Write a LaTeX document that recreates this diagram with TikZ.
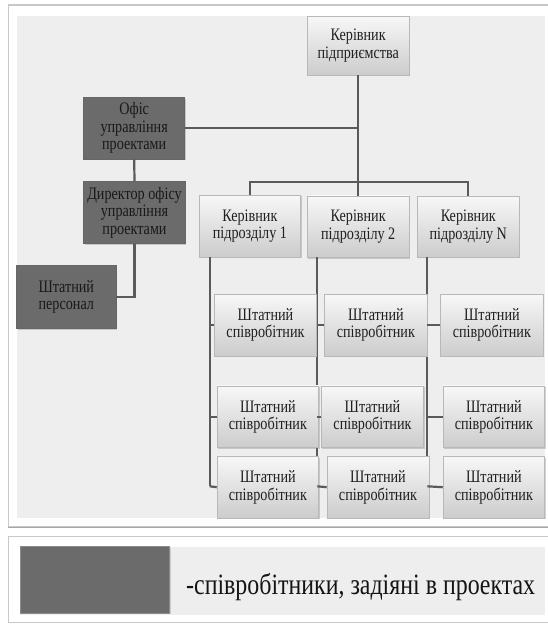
\documentclass[tikz,border=0pt]{standalone}
\usepackage{fontspec}
\setmainfont{Liberation Serif}
\newfontfamily\narrowf[FakeStretch=0.81]{Liberation Serif}
\usetikzlibrary{shadows}
\definecolor{panel}{HTML}{EEEEEE}
\definecolor{darkbox}{HTML}{6B6B6B}
\definecolor{linec}{HTML}{5A5A5A}
\definecolor{frameline}{HTML}{C8C8C8}
\tikzset{
  x=1pt, y=-1pt,
  boxbase/.style={line width=0.6pt, minimum width=101.7pt, minimum height=62pt,
    align=center, inner sep=1pt,
    font=\narrowf\fontsize{17.5}{17.5}\selectfont,
    drop shadow={shadow xshift=1pt, shadow yshift=-1.3pt, opacity=0.35}},
  lbox/.style={boxbase, draw=black!28, top color=white!97!black, bottom color=black!20, text=black!88},
  dbox/.style={boxbase, draw=black!60, fill=darkbox, text=black!90},
  conn/.style={draw=linec, line width=2.2pt},
}
\begin{document}
\begin{tikzpicture}
\useasboundingbox (0,0) rectangle (548,624);
\fill[white] (0,0) rectangle (548,624);
% outer frames
\draw[frameline, line width=1.2pt] (8.3,5) rectangle (560,526.5);
\draw[black!35, line width=1.5pt] (8.3,527.5) -- (560,527.5);
\fill[panel] (16.7,16) rectangle (544.7,518);
\draw[frameline, line width=1.2pt] (8.3,536.7) rectangle (560,622.7);
\fill[panel] (20,547) rectangle (544.7,615.3);

% nodes
\node[lbox, minimum height=59pt] (top) at (358.2,45.5) {Керівник\\підприємства};
\node[dbox, minimum width=101pt, minimum height=61.7pt] (ofis) at (134.2,128.2) {Офіс\\управління\\проектами};
\node[dbox, minimum width=101.6pt, minimum height=61.6pt] (dir) at (134.5,212.5) {Директор офісу\\управління\\проектами};
\node[dbox, minimum width=99.3pt, minimum height=62.6pt] (pers) at (66.3,297) {Штатний\\персонал};

\node[lbox] (k1) at (249.9,226) {Керівник\\підрозділу 1};
\node[lbox, minimum height=61.3pt] (k2) at (358.2,226.6) {Керівник\\підрозділу 2};
\node[lbox, minimum width=102pt, minimum height=61pt] (kN) at (468.3,226.5) {Керівник\\підрозділу N};

% connector columns
\coordinate (bar) at (358.2,182);
\coordinate (c1) at (209.7,257);
\coordinate (c2) at (317.3,257);
\coordinate (c3) at (427.3,257);
\coordinate (e1) at (209.7,486.3);
\coordinate (e2) at (317.3,486.3);
\coordinate (e3) at (427.3,486.3);

\draw[conn] (c1) -- (e1);
\draw[conn] (c2) -- (e2);
\draw[conn] (c3) -- (e3);

\node[lbox] (s11) at (265.5,325) {Штатний\\співробітник};
\node[lbox, minimum width=102.3pt] (s12) at (375.9,325) {Штатний\\співробітник};
\node[lbox, minimum width=102.3pt] (s13) at (491.9,325) {Штатний\\співробітник};
\node[lbox, minimum height=61.7pt] (s21) at (267.9,416.8) {Штатний\\співробітник};
\node[lbox, minimum width=102.4pt, minimum height=61.7pt] (s22) at (372.5,416.8) {Штатний\\співробітник};
\node[lbox, minimum height=61.7pt] (s23) at (493.9,416.8) {Штатний\\співробітник};
\node[lbox, minimum height=61.7pt] (s31) at (267.9,487.2) {Штатний\\співробітник};
\node[lbox, minimum width=102pt, minimum height=61.7pt] (s32) at (378,487.2) {Штатний\\співробітник};
\node[lbox, minimum height=61.7pt] (s33) at (493.9,487.2) {Штатний\\співробітник};

\draw[conn] (top.south) -- (bar);
\draw[conn] (ofis.east) -- (ofis.east -| bar);
\draw[conn] (k1.north) |- (bar);
\draw[conn] (kN.north) |- (bar);
\draw[conn] (bar) -- (k2.north);
\draw[conn] (ofis.south) -- (dir.north);
\draw[conn] (dir.south) |- (pers.east);

\draw[conn] (s11.west -| c1) -- (s11.west);
\draw[conn] (s21.west -| c1) -- (s21.west);
\draw[conn] (e1) -- (s31.west);
\draw[conn] (s12.west -| c2) -- (s12.west);
\draw[conn] (s22.west -| c2) -- (s22.west);
\draw[conn] (e2) -- (s32.west);
\draw[conn] (s13.west -| c3) -- (s13.west);
\draw[conn] (s23.west -| c3) -- (s23.west);
\draw[conn] (e3) -- (s33.west);

% legend
\node[draw=black!45, line width=0.5pt, fill=darkbox, minimum width=149pt, minimum height=66.6pt, inner sep=0pt,
  drop shadow={shadow xshift=0.8pt, shadow yshift=-1pt, opacity=0.3}] (leg) at (95.2,580) {};
\node[anchor=west, font=\narrowf\fontsize{29.5}{30}\selectfont, text=black!92, inner sep=0pt] (legt) at (186,587) {-співробітники, задіяні в проектах};
\end{tikzpicture}
\end{document}
